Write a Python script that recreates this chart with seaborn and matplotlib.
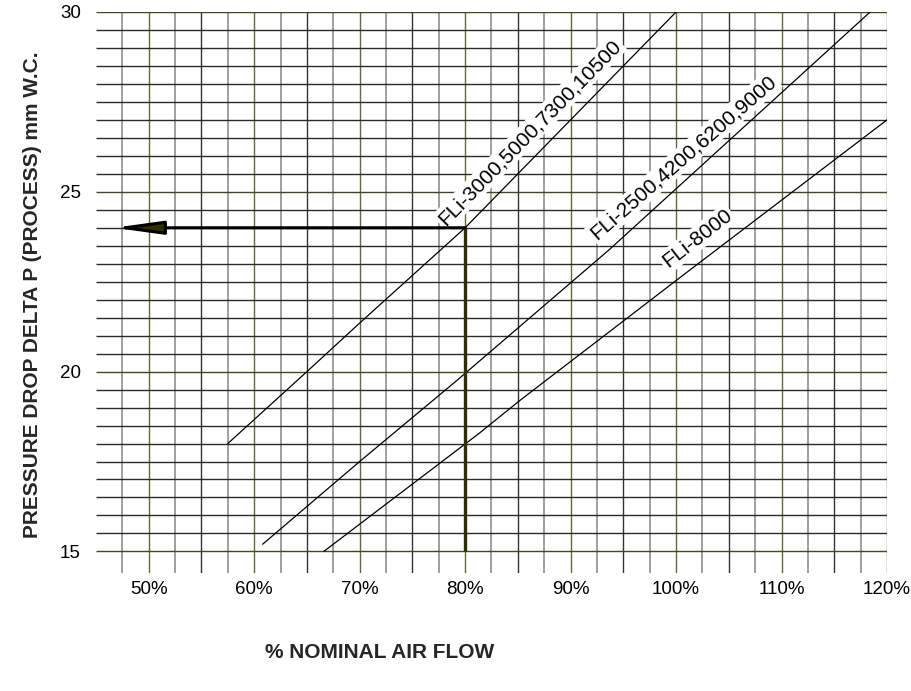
import numpy as np
import pandas as pd
import matplotlib
matplotlib.use("Agg")
import matplotlib.pyplot as plt
import seaborn as sns

# ---------------- data ----------------
series_names = ["FLi-3000,5000,7300,10500", "FLi-2500,4200,6200,9000", "FLi-8000"]
flow_1 = [57.5, 65.0, 70.0, 80.0, 86.0, 100.0]
dp_1 = [18.0, 20.0, 21.35, 24.0, 25.8, 30.0]
flow_2 = [60.8, 70.0, 79.2, 93.7, 118.4]
dp_2 = [15.2, 17.5, 19.75, 23.4, 30.0]
flow_3 = [66.6, 81.4, 85.2, 100.3, 120.0]
dp_3 = [15.0, 18.3, 19.2, 22.6, 27.0]

x_ticks = [50, 60, 70, 80, 90, 100, 110, 120]
x_tick_labels = ["50%", "60%", "70%", "80%", "90%", "100%", "110%", "120%"]
y_ticks = [15, 20, 25, 30]
y_tick_labels = ["15", "20", "25", "30"]

selected_flow = 80.0
selected_dp = 24.0
arrow_tip_flow = 46.7

x_label = "% NOMINAL AIR FLOW"
y_label = "PRESSURE DROP DELTA P (PROCESS) mm W.C."

# ---------------- styling ----------------
sns.set_theme(style="white")
plt.rcParams["font.family"] = ["Liberation Sans", "DejaVu Sans"]

W, H = 912, 691
fig = plt.figure(figsize=(W / 100, H / 100), dpi=100)
ax_left, ax_right, ax_top, ax_bottom = 96, 887, 12, 573
ax = fig.add_axes([ax_left / W, 1 - ax_bottom / H,
                   (ax_right - ax_left) / W, (ax_bottom - ax_top) / H])

xmin, xmax = 45.0, 120.0
ymin, ymax = 14.4, 30.0
ax.set_xlim(xmin, xmax)
ax.set_ylim(ymin, ymax)

# grid: vertical lines every 2.5 %, horizontal every 0.5 from 15 to 30
for v in np.arange(47.5, 120.01, 2.5):
    if abs(v % 10) < 1e-6:
        col, lw = "#66663c", 1.0
    elif abs(v % 5) < 1e-6:
        col, lw = "#333333", 1.0
    else:
        col, lw = "#858585", 1.1
    ax.vlines(v, ymin, ymax, colors=col, linewidth=lw, zorder=1)
for hv in np.arange(15.0, 30.01, 0.5):
    if abs(hv % 5) < 1e-6:
        col = "#454520"
    else:
        col = "#2a2a2a"
    ax.hlines(hv, xmin, xmax, colors=col, linewidth=1.0, zorder=1)

# curves
df = pd.concat([
    pd.DataFrame({"flow": flow_1, "dp": dp_1, "model": series_names[0]}),
    pd.DataFrame({"flow": flow_2, "dp": dp_2, "model": series_names[1]}),
    pd.DataFrame({"flow": flow_3, "dp": dp_3, "model": series_names[2]}),
], ignore_index=True)
sns.lineplot(data=df, x="flow", y="dp", units="model", estimator=None,
             sort=False, color="black", linewidth=0.9, ax=ax, zorder=3,
             legend=False)

# labels along curves
label_specs = [
    (series_names[0], 86.1, 26.65, 45.5),
    (series_names[1], 100.7, 25.95, 41.0),
    (series_names[2], 102.0, 23.7, 38.0),
]
for txt, lx, ly, rot in label_specs:
    ax.text(lx, ly, txt, rotation=rot, rotation_mode="anchor",
            ha="center", va="center", fontsize=15, color="black",
            bbox=dict(facecolor="white", edgecolor="none", pad=1.5),
            zorder=2)

# selection lines + arrow
ax.plot([selected_flow, selected_flow], [15.0, selected_dp],
        color="#2f2f00", linewidth=2.4, solid_capstyle="butt", zorder=4)
ax.annotate("", xy=(arrow_tip_flow, selected_dp),
            xytext=(selected_flow, selected_dp),
            arrowprops=dict(arrowstyle="-|>,head_length=2.9,head_width=0.4",
                            mutation_scale=10, shrinkA=0, shrinkB=0,
                            color="#2f2f00", ec="black", fc="#2f2f00",
                            linewidth=2.2),
            zorder=4)

# ticks and labels
ax.set_xticks(x_ticks)
ax.set_xticklabels(x_tick_labels, fontsize=13.5)
ax.set_yticks(y_ticks)
ax.set_yticklabels(y_tick_labels, fontsize=13.5)
ax.tick_params(axis="x", length=0, pad=6, colors="black")
ax.tick_params(axis="y", length=0, pad=11, colors="black")
ax.set_xlabel("")
ax.set_ylabel("")
for s in ax.spines.values():
    s.set_visible(False)
ax.grid(False)

fig.text(380 / W, 1 - 653 / H, x_label, ha="center", va="center",
         fontsize=15, fontweight="bold")
fig.text(33 / W, 1 - 295 / H, y_label, ha="center", va="center",
         rotation=90, fontsize=15, fontweight="bold")

fig.savefig("out.png", dpi=100)
